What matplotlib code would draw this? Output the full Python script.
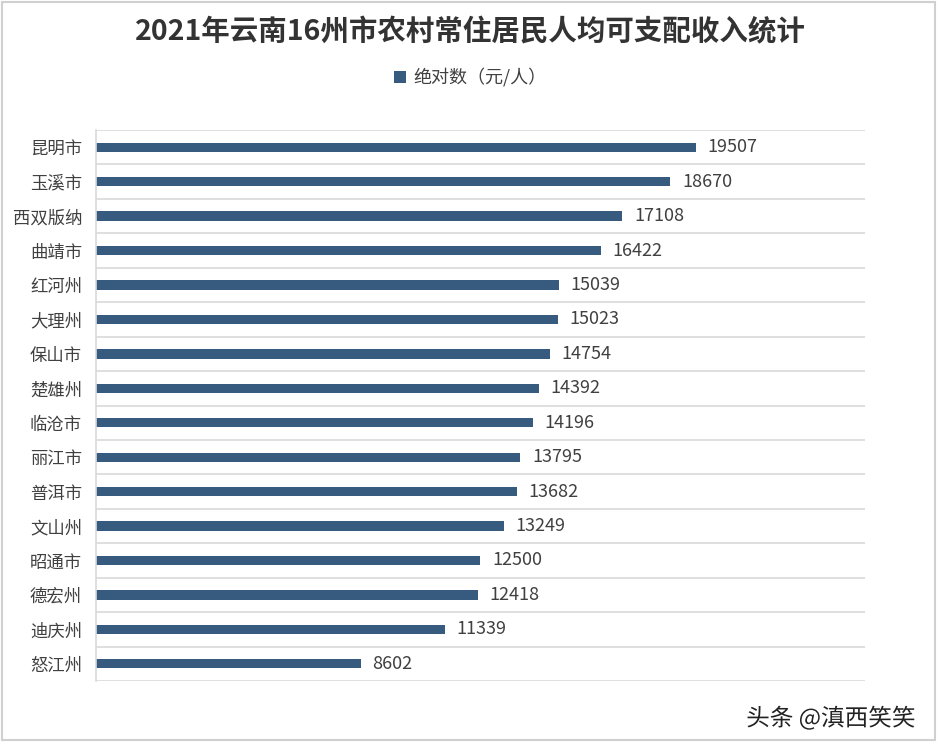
import matplotlib.pyplot as plt
from matplotlib.patches import Rectangle
import matplotlib.patheffects as pe

plt.rcParams['font.family'] = ['Noto Sans CJK SC', 'DejaVu Sans']

cities = ['昆明市', '玉溪市', '西双版纳', '曲靖市', '红河州', '大理州', '保山市', '楚雄州',
          '临沧市', '丽江市', '普洱市', '文山州', '昭通市', '德宏州', '迪庆州', '怒江州']
income = [19507, 18670, 17108, 16422, 15039, 15023, 14754, 14392,
          14196, 13795, 13682, 13249, 12500, 12418, 11339, 8602]

bar_color = '#365b7f'
text_color = '#404040'

fig = plt.figure(figsize=(9.4, 7.52), dpi=100)
ax = fig.add_axes([0.1021, 0.0944, 0.8181, 0.7327])

y = list(range(len(cities)))
ax.barh(y, income, height=0.27, color=bar_color, label='绝对数（元/人）')
ax.set_ylim(len(cities) - 0.5, -0.5)
ax.set_xlim(0, 25000)

for yi, v in zip(y, income):
    ax.text(v + 380, yi, str(v), va='center', ha='left', fontsize=13, color=text_color)

# row separators
for b in range(len(cities) + 1):
    ax.axhline(b - 0.5, color='#d9d9d9', lw=1.2, zorder=0)

ax.set_yticks(y)
ax.set_yticklabels(cities, fontsize=12.5, color=text_color)
ax.tick_params(axis='y', length=0, pad=10)
ax.set_xticks([])
for s in ['top', 'right', 'bottom']:
    ax.spines[s].set_visible(False)
ax.spines['left'].set_color('#d9d9d9')
ax.spines['left'].set_linewidth(1.2)

fig.text(0.5, 0.957, '2021年云南16州市农村常住居民人均可支配收入统计', ha='center', va='center',
         fontsize=20.5, fontweight='bold', color='#333333')
fig.legend(loc='center', bbox_to_anchor=(0.5, 0.897), frameon=False, fontsize=13,
           handlelength=0.65, handleheight=0.65, handletextpad=0.4, labelcolor=text_color)

txt = fig.text(0.974, 0.045, '头条 @滇西笑笑', ha='right', va='center', fontsize=17, color='#222222')
txt.set_path_effects([pe.withStroke(linewidth=2, foreground='white')])

fig.patches.append(Rectangle((0.002, 0.016), 0.993, 0.981, transform=fig.transFigure,
                             fill=False, edgecolor='#d0d0d0', lw=1.5))

fig.savefig('out.png', dpi=100)
